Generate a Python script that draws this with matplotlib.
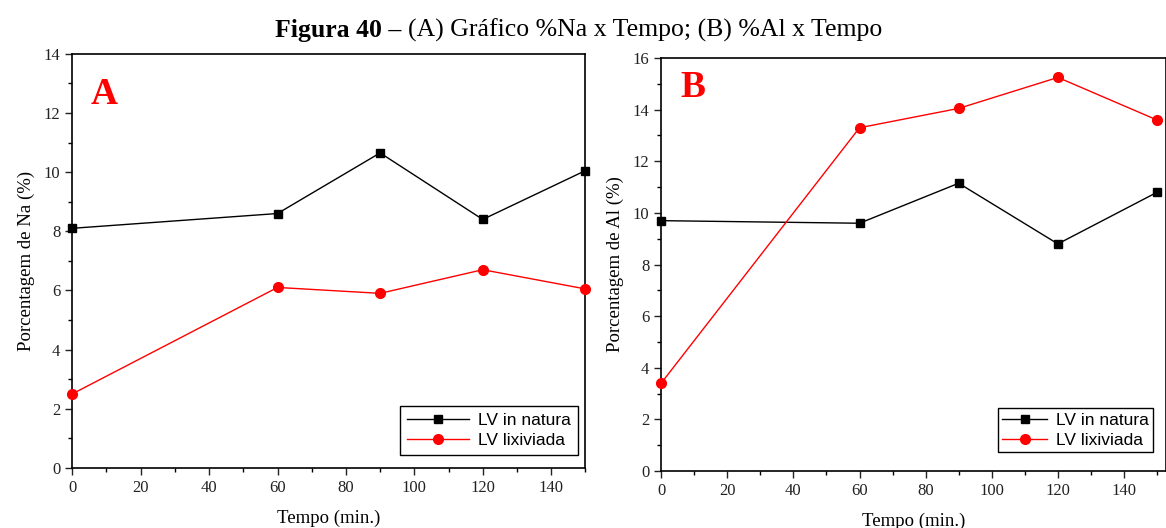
import matplotlib.pyplot as plt
from matplotlib.ticker import MultipleLocator

# Tempo de lixiviação (min.)
tempo = [0, 60, 90, 120, 150]

# Teor de Na (%)
na_natura = [8.1, 8.6, 10.65, 8.4, 10.05]
na_lixiviada = [2.5, 6.1, 5.9, 6.7, 6.05]

# Teor de Al (%)
al_natura = [9.7, 9.6, 11.15, 8.8, 10.8]
al_lixiviada = [3.4, 13.3, 14.05, 15.25, 13.6]

serif = 'Liberation Serif'
sans = 'Liberation Sans'

fig = plt.figure(figsize=(11.66, 5.28), dpi=100)

# titulo: parte em negrito seguida do texto normal
t1 = fig.text(0.236, 0.943, 'Figura 40 \u2013', fontsize=18.5, family=serif,
              fontweight='bold', ha='left', va='center')
r = fig.canvas.get_renderer()
bb = t1.get_window_extent(renderer=r)
x2 = (bb.x1 + 6) / fig.bbox.width
fig.text(x2, 0.943, '(A) Gráfico %Na x Tempo; (B) %Al x Tempo',
         fontsize=18.5, family=serif, ha='left', va='center')


def painel(rect, ynat, ylix, ymax, xmax, letra, lpos, ylabel, legpos, hl, bp):
    ax = fig.add_axes(rect)
    ax.plot(tempo, ynat, color='black', lw=1, marker='s', ms=6,
            label='LV in natura', clip_on=False, zorder=3)
    ax.plot(tempo, ylix, color='red', lw=1, marker='o', ms=7,
            label='LV lixiviada', clip_on=False, zorder=3)
    ax.set_xlim(0, xmax)
    ax.set_ylim(0, ymax)
    ax.xaxis.set_major_locator(MultipleLocator(20))
    ax.xaxis.set_minor_locator(MultipleLocator(10))
    ax.yaxis.set_major_locator(MultipleLocator(2))
    ax.yaxis.set_minor_locator(MultipleLocator(1))
    ax.tick_params(which='major', direction='out', length=5, width=1,
                   labelsize=12, colors='#222222')
    ax.tick_params(which='minor', direction='out', length=3, width=1)
    for lab in ax.get_xticklabels() + ax.get_yticklabels():
        lab.set_family(serif)
    for s in ax.spines.values():
        s.set_linewidth(1.2)
    ax.set_xlabel('Tempo (min.)', family=serif, fontsize=13.5, labelpad=10)
    ax.set_ylabel(ylabel, family=serif, fontsize=13.5, labelpad=6)
    ax.text(lpos[0], lpos[1], letra, transform=ax.transAxes, color='red',
            fontsize=27, fontweight='bold', family=serif, va='top')
    leg = ax.legend(loc='lower right', bbox_to_anchor=legpos, fancybox=False,
                    edgecolor='black', framealpha=1, handlelength=hl,
                    prop={'family': sans, 'size': 12.5}, borderpad=bp,
                    labelspacing=0.3, handletextpad=0.5, borderaxespad=0)
    leg.get_frame().set_linewidth(1)
    return ax

painel([0.062, 0.114, 0.440, 0.784], na_natura, na_lixiviada, 14, 150, 'A',
       (0.035, 0.945), 'Porcentagem de Na (%)', (0.985, 0.03), 3.6, 0.4)
painel([0.567, 0.108, 0.433, 0.782], al_natura, al_lixiviada, 16, 152.7, 'B',
       (0.038, 0.97), 'Porcentagem de Al (%)', (0.975, 0.045), 2.6, 0.25)

fig.savefig('out.png', dpi=100)
